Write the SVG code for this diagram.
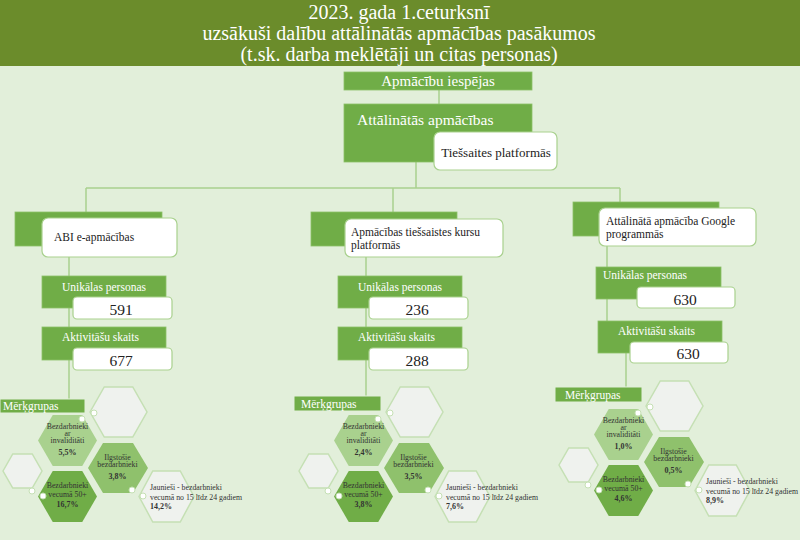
<svg xmlns="http://www.w3.org/2000/svg" width="800" height="540" viewBox="0 0 800 540">
<style>
.serif{font-family:"Liberation Serif","Times New Roman",serif}
.title{font-family:"Liberation Serif",serif;font-size:20px;fill:#ffffff;text-anchor:middle}
.gbox{fill:#70ad47;stroke:#8cc068;stroke-width:0.8}
.wbox{fill:#ffffff;stroke:#a9d18e;stroke-width:1.2}
.wt{font-family:"Liberation Serif",serif;font-size:15px;fill:#ffffff}
.bt{font-family:"Liberation Serif",serif;font-size:11.5px;fill:#ffffff}
.kt{font-family:"Liberation Serif",serif;font-size:11.5px;fill:#222222}
.num{font-family:"Liberation Serif",serif;font-size:15.5px;fill:#222222;text-anchor:middle}
.conn{stroke:#a9d18e;stroke-width:1.5;fill:none}
.hexE{fill:#eff2ee;stroke:#c5e0b4;stroke-width:1.5}
.hexL{fill:#a9d18e}
.hexM{fill:#8fc16c}
.hexD{fill:#70ad47}
.dot{fill:#ffffff;stroke:#c5e0b4;stroke-width:1}
.ht{font-family:"Liberation Serif",serif;font-size:7.8px;fill:#333333;text-anchor:middle}
.hp{font-family:"Liberation Serif",serif;font-size:8px;font-weight:bold;fill:#333333;text-anchor:middle}
.jt{font-family:"Liberation Serif",serif;font-size:7.8px;fill:#333333}
.jp{font-family:"Liberation Serif",serif;font-size:8px;font-weight:bold;fill:#333333}
.mg{fill:#70ad47;stroke:#e2efda;stroke-width:1}
.mt{font-family:"Liberation Serif",serif;font-size:11.5px;fill:#ffffff}
</style>
<defs>
<g id="cluster-shapes">
<polygon class="hexE" points="90,412 104.25,387 132.75,387 147,412 132.75,437 104.25,437"/>
<polygon class="hexL" points="38,440.5 52.75,415 82.25,415 97,440.5 82.25,466 52.75,466"/>
<polygon class="hexM" points="88,468 103,443 133,443 148,468 133,493 103,493"/>
<polygon class="hexE" points="3,471 12.75,454 32.25,454 42,471 32.25,488 12.75,488"/>
<polygon class="hexD" points="38,496.5 52.75,471 82.25,471 97,496.5 82.25,522 52.75,522"/>
<polygon class="hexE" points="139,496.5 152.75,471 180.25,471 194,496.5 180.25,522 152.75,522"/>
<circle class="dot" cx="94" cy="413" r="3"/>
<circle class="dot" cx="82" cy="419" r="3"/>
<circle class="dot" cx="32" cy="491" r="3"/>
<circle class="dot" cx="43" cy="496" r="3"/>
<circle class="dot" cx="132" cy="490" r="3"/>
<circle class="dot" cx="143" cy="496" r="3"/>
<text class="ht" x="67.5" y="429">Bezdarbnieki</text>
<text class="ht" x="67.5" y="436">ar</text>
<text class="ht" x="67.5" y="443">invaliditāti</text>
<text class="ht" x="117.5" y="460">Ilgstošie</text>
<text class="ht" x="117.5" y="467">bezdarbnieki</text>
<text class="ht" x="67.5" y="488">Bezdarbnieki</text>
<text class="ht" x="67.5" y="497">vecumā 50+</text>
<text class="jt" x="150" y="490">Jaunieši - bezdarbnieki</text>
<text class="jt" x="150" y="500">vecumā no 15 līdz 24 gadiem</text>
</g>
</defs>
<rect x="0" y="0" width="800" height="540" fill="#e2efda"/>
<g id="title">
<rect x="0" y="0" width="800" height="66" fill="#6b8c2b"/>
<text class="title" x="399" y="19">2023. gada 1.ceturksnī</text>
<text class="title" x="399" y="40">uzsākuši dalību attālinātās apmācības pasākumos</text>
<text class="title" x="399" y="61">(t.sk. darba meklētāji un citas personas)</text>
</g>
<g id="connectors">
<line class="conn" x1="439" y1="90" x2="439" y2="104"/>
<line class="conn" x1="416" y1="162" x2="416" y2="188"/>
<line class="conn" x1="86" y1="188" x2="620" y2="188"/>
<line class="conn" x1="86" y1="188" x2="86" y2="212"/>
<line class="conn" x1="393" y1="188" x2="393" y2="212"/>
<line class="conn" x1="620" y1="188" x2="620" y2="202"/>
<line class="conn" x1="69" y1="246" x2="69" y2="399"/>
<line class="conn" x1="366" y1="246" x2="366" y2="396"/>
<line class="conn" x1="607" y1="236" x2="607" y2="321"/>
<line class="conn" x1="626" y1="353" x2="626" y2="387"/>
</g>
<g id="n-apmacibu">
<rect class="gbox" x="344" y="72" width="188" height="18"/>
<text class="wt" x="438" y="86" text-anchor="middle">Apmācību iespējas</text>
</g>
<g id="n-attalinatas">
<rect class="gbox" x="344" y="104" width="188" height="58"/>
<text class="wt" x="357" y="125" style="font-size:15.5px">Attālinātās apmācības</text>
<rect class="wbox" x="434" y="132" width="123" height="38" rx="6"/>
<text class="kt" x="496" y="157" text-anchor="middle" style="font-size:13px">Tiešsaites platformās</text>
</g>
<g id="n-abi">
<rect class="gbox" x="15" y="212" width="147" height="34"/>
<rect class="wbox" x="42" y="218" width="135" height="39" rx="6"/>
<text class="kt" x="54" y="241">ABI e-apmācības</text>
</g>
<g id="n-abi-unik">
<rect class="gbox" x="42" y="276" width="124" height="32"/>
<text class="bt" x="62" y="291">Unikālas personas</text>
<rect class="wbox" x="73" y="297" width="99" height="22" rx="4"/>
<text class="num" x="121" y="315">591</text>
</g>
<g id="n-abi-akt">
<rect class="gbox" x="42" y="327" width="124" height="33"/>
<text class="bt" x="62" y="341">Aktivitāšu skaits</text>
<rect class="wbox" x="73" y="348" width="99" height="22" rx="4"/>
<text class="num" x="121" y="366">677</text>
</g>
<g id="n-kursu">
<rect class="gbox" x="311" y="212" width="146" height="34"/>
<rect class="wbox" x="345" y="219" width="158" height="38" rx="6"/>
<text class="kt" x="351" y="236">Apmācības tiešsaistes kursu</text>
<text class="kt" x="351" y="249">platformās</text>
</g>
<g id="n-kursu-unik">
<rect class="gbox" x="338" y="276" width="124" height="32"/>
<text class="bt" x="358" y="291">Unikālas personas</text>
<rect class="wbox" x="369" y="297" width="99" height="22" rx="4"/>
<text class="num" x="417" y="315">236</text>
</g>
<g id="n-kursu-akt">
<rect class="gbox" x="338" y="327" width="124" height="33"/>
<text class="bt" x="358" y="341">Aktivitāšu skaits</text>
<rect class="wbox" x="369" y="348" width="99" height="22" rx="4"/>
<text class="num" x="417" y="366">288</text>
</g>
<g id="n-google">
<rect class="gbox" x="573" y="202" width="146" height="34"/>
<rect class="wbox" x="599" y="208" width="157" height="38" rx="6"/>
<text class="kt" x="606" y="225">Attālinātā apmācība Google</text>
<text class="kt" x="606" y="238">programmās</text>
</g>
<g id="n-google-unik">
<rect class="gbox" x="596" y="267" width="125" height="32"/>
<text class="bt" x="603" y="279">Unikālas personas</text>
<rect class="wbox" x="637" y="287" width="98" height="21" rx="4"/>
<text class="num" x="685" y="305">630</text>
</g>
<g id="n-google-akt">
<rect class="gbox" x="598" y="321" width="124" height="32"/>
<text class="bt" x="618" y="335">Aktivitāšu skaits</text>
<rect class="wbox" x="630" y="342" width="98" height="21" rx="4"/>
<text class="num" x="688" y="359">630</text>
</g>
<g id="mg-left">
<rect class="mg" x="0" y="399" width="85" height="14"/>
<text class="mt" x="3" y="410">Mērķgrupas</text>
</g>
<g id="mg-mid">
<rect class="mg" x="294" y="396" width="87" height="15"/>
<text class="mt" x="301" y="407.5">Mērķgrupas</text>
</g>
<g id="mg-right">
<rect class="mg" x="555" y="387" width="87" height="15"/>
<text class="mt" x="565" y="398.5">Mērķgrupas</text>
</g>
<g id="hex-left">
<use href="#cluster-shapes"/>
<text class="hp" x="67.5" y="455">5,5%</text>
<text class="hp" x="117.5" y="479">3,8%</text>
<text class="hp" x="67.5" y="507">16,7%</text>
<text class="jp" x="150" y="509">14,2%</text>
</g>
<g id="hex-mid" transform="translate(296,0)">
<use href="#cluster-shapes"/>
<text class="hp" x="67.5" y="455">2,4%</text>
<text class="hp" x="117.5" y="479">3,5%</text>
<text class="hp" x="67.5" y="507">3,8%</text>
<text class="jp" x="150" y="509">7,6%</text>
</g>
<g id="hex-right" transform="translate(556,-6)">
<use href="#cluster-shapes"/>
<text class="hp" x="67.5" y="455">1,0%</text>
<text class="hp" x="117.5" y="479">0,5%</text>
<text class="hp" x="67.5" y="507">4,6%</text>
<text class="jp" x="150" y="509">8,9%</text>
</g>
</svg>
